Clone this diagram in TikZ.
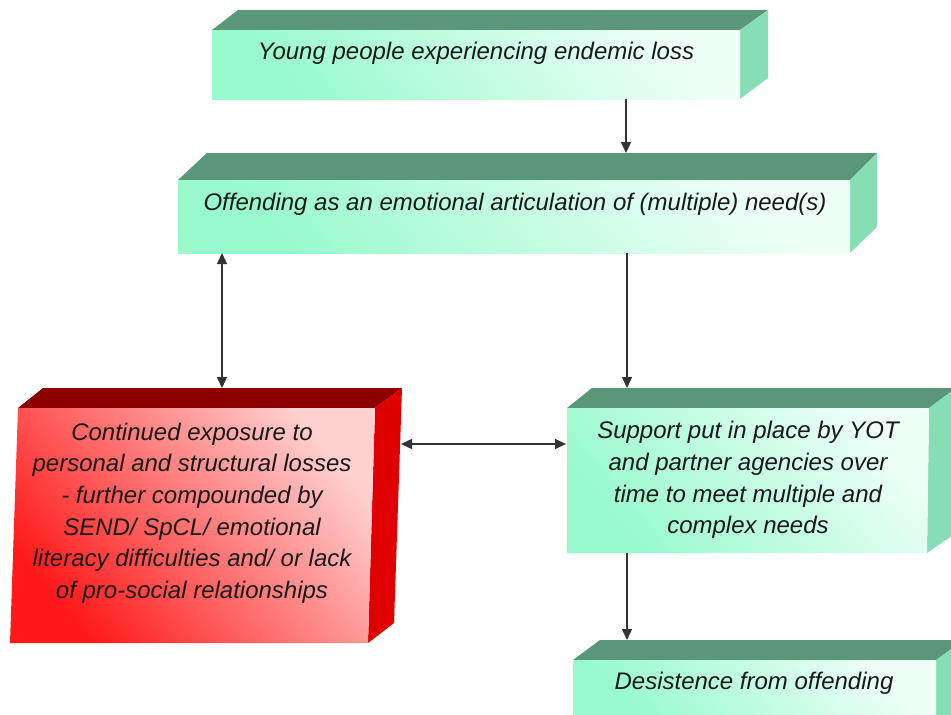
\documentclass[tikz,border=0pt]{standalone}
\usepackage{fontspec}
\setmainfont{Liberation Sans}
\usetikzlibrary{arrows.meta}
\definecolor{gtop}{RGB}{90,150,120}
\definecolor{gside}{RGB}{135,222,180}
\definecolor{gdark}{RGB}{152,250,204}
\definecolor{glight}{RGB}{238,255,247}
\definecolor{rtop}{RGB}{140,0,0}
\definecolor{rside}{RGB}{224,0,0}
\definecolor{rdark}{RGB}{255,25,25}
\definecolor{rlight}{RGB}{255,208,208}
\tikzset{
  gtopface/.style={fill=gtop},
  gsideface/.style={fill=gside},
  gfront/.style={shading=axis, bottom color=gdark, top color=glight, shading angle=-50},
  rtopface/.style={fill=rtop},
  rsideface/.style={fill=rside},
  rfront/.style={shading=axis, bottom color=rdark, top color=rlight, shading angle=-50},
  txt/.style={font=\fontsize{24}{31.6}\selectfont\itshape, text=black!90, align=center, inner sep=0pt},
  arr/.style={draw=black!80, line width=1.4pt, -{Triangle[length=11pt,width=10pt]}},
  darr/.style={draw=black!80, line width=1.4pt, {Triangle[length=11pt,width=10pt]}-{Triangle[length=11pt,width=10pt]}}
}
\begin{document}
\begin{tikzpicture}[x=1pt,y=-1pt]
\useasboundingbox (0,0) rectangle (951,715);
\fill[white] (0,0) rectangle (951,715);

% Box 1
\fill[gtopface] (238,10) -- (768,10) -- (740,30) -- (212,30) -- cycle;
\fill[gsideface] (740,30) -- (768,10) -- (768,78) -- (740,99) -- cycle;
\shade[gfront] (212,30) rectangle (740,99);
\node[txt] (b1) at (476,53) {Young people experiencing endemic loss};

% Box 2
\fill[gtopface] (207,153) -- (877,153) -- (850,180) -- (178,180) -- cycle;
\fill[gsideface] (850,180) -- (877,153) -- (877,227) -- (850,253) -- cycle;
\shade[gfront] (178,180) rectangle (850,253);
\node[txt] (b2) at (515,204) {Offending as an emotional articulation of (multiple) need(s)};

% Red box
\fill[rtopface] (43,388) -- (402,388) -- (375,408) -- (18,408) -- cycle;
\fill[rsideface] (375,408) -- (402,388) -- (394,623) -- (368,643) -- cycle;
\shade[rfront] (18,408) -- (375,408) -- (368,643) -- (10,643) -- cycle;
\node[txt] (r) at (192,513) {Continued exposure to\\personal and structural losses\\- further compounded by\\SEND/ SpCL/ emotional\\literacy difficulties and/ or lack\\of pro-social relationships};

% Box 3
\fill[gtopface] (592,388) -- (956,388) -- (929,408) -- (567,408) -- cycle;
\fill[gsideface] (929,408) -- (956,388) -- (956,533) -- (927,553) -- cycle;
\shade[gfront] (567,408) -- (929,408) -- (927,553) -- (567,553) -- cycle;
\node[txt] (b3) at (748,480) {Support put in place by YOT\\and partner agencies over\\time to meet multiple and\\complex needs};

% Box 4
\fill[gtopface] (600,640) -- (964,640) -- (936,660) -- (573,660) -- cycle;
\fill[gsideface] (936,660) -- (964,640) -- (964,715) -- (936,715) -- cycle;
\shade[gfront] (573,660) rectangle (936,715);
\node[txt] (b4) at (754,683) {Desistence from offending};

% connector end points
\coordinate (b1out) at (626,99);
\coordinate (b2in) at (626,153);
\coordinate (b2outL) at (222,253);
\coordinate (rin) at (222,388);
\coordinate (b2outR) at (627,253);
\coordinate (b3in) at (627,388);
\coordinate (rout) at (401,444);
\coordinate (b3inL) at (566,444);
\coordinate (b3out) at (627,553);
\coordinate (b4in) at (627,640);

\draw[arr] (b1out) -- (b2in);
\draw[darr] (b2outL) -- (rin);
\draw[arr] (b2outR) -- (b3in);
\draw[darr] (rout) -- (b3inL);
\draw[arr] (b3out) -- (b4in);
\end{tikzpicture}
\end{document}
